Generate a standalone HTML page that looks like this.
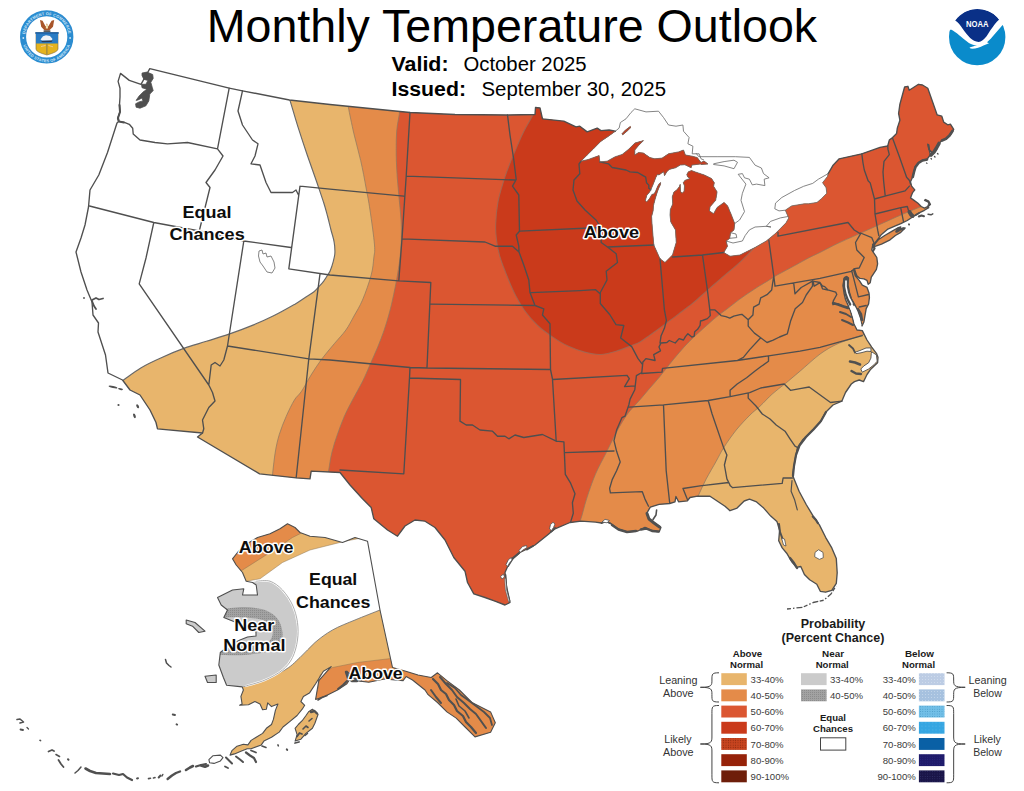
<!DOCTYPE html>
<html><head><meta charset="utf-8"><title>Monthly Temperature Outlook</title>
<style>html,body{margin:0;padding:0;background:#fff}body{width:1024px;height:791px;overflow:hidden;font-family:"Liberation Sans",sans-serif}svg{display:block}</style>
</head><body>
<svg width="1024" height="791" viewBox="0 0 1024 791" font-family="Liberation Sans, sans-serif">
<defs>
<clipPath id="cl"><path d="M149.8 68.7 L229.2 88.2 L242.5 90.8 L289.5 100 L330 104.5 L410 112.5 L455 114.5 L507.5 115 L535 114.5 L535.5 107.5 L540 108 L542.5 118.8 L563.8 121.2 L576 126.9 L579.8 126.2 L587.2 131.9 L597.2 128.1 L601 130.6 L609.1 130 L615.4 131.2 L608.5 136.2 L601 141.2 L593.5 148.8 L587.2 155 L581 161.2 L588.5 159.4 L599.1 155.6 L599.8 161.9 L607.2 161.2 L614.8 156.9 L622.2 154.4 L628.5 149.4 L634.8 143.1 L643.5 140.6 L638.5 145.6 L634.8 150 L634.8 155 L638.5 152.5 L643.5 153.1 L649.8 157.5 L654.8 158.8 L662.2 158.1 L668.5 153.8 L678.5 151.9 L683.5 150 L685.4 155 L692.2 156.2 L697.2 157.5 L701 162.5 L704 161 L708 164 L701 164.5 L700.5 163.9 L695 164.7 L691.9 165.1 L691.1 167.8 L684.9 164.7 L680.2 165.1 L675.5 167.8 L669.2 169.4 L666.8 171.8 L664.5 175.7 L663.7 171.8 L661.3 173.3 L659 174.9 L657.4 174.5 L655.9 177.2 L653.5 183.5 L650.8 189.8 L649.6 192.1 L646.8 195.3 L645.3 200.8 L646.8 201.9 L649.6 198.4 L651.9 194.5 L654.3 193.7 L655.9 190.6 L657.8 185.9 L659.4 183.5 L660.6 182.5 L660.5 184.5 L658.6 188.5 L657 192.9 L655.1 199.2 L653.5 205.5 L653.1 210.9 L651.6 216.4 L651.9 222 L652.5 230 L653.8 245 L660 258.8 L665 262.5 L672.5 255 L676.2 242.5 L675.5 230 L670.8 222 L670 214.9 L670.4 209.4 L672.7 203.9 L672.3 196.8 L673.9 192.1 L677 189.8 L679.4 186.6 L680.2 184.3 L680.5 191.3 L682.1 193.3 L684.1 191.3 L684.5 185.9 L683.3 182.7 L684.9 180.4 L688 179.2 L690 178.4 L687.6 176.8 L686.8 174.5 L688.4 171.8 L691.5 170.6 L696 172.2 L704.4 175 L711.5 178.5 L714.3 182.7 L713.6 186.3 L717.1 191.9 L715.7 200.3 L710.1 206.7 L709.4 210.9 L713.6 213.7 L717.1 207.4 L724.1 202.4 L727.6 205.9 L731.2 214.4 L734.7 223.5 L734 229.9 L730.5 232.7 L729.8 238.3 L726.2 241 L727.5 246.2 L723.8 252.5 L730 256.2 L740 255 L755 247.5 L766.3 241 L774.8 234.1 L780.4 228.5 L786 222.8 L788.8 217.9 L788.1 216.5 L785.3 210.2 L791.6 205.9 L804.3 203.8 L808.5 203.8 L817 202.4 L821.2 198.9 L826.8 193.3 L826.1 187.7 L822.6 182.7 L827.5 176.4 L828.2 173.6 L833.1 165.2 L839.2 158.8 L861.8 153.8 L880 147.4 L887.7 146 L889.3 140.1 L892.6 137.4 L896.6 133.4 L897.3 128.1 L899.9 120.2 L898.6 113.5 L899.9 104.2 L904.6 87 L907.9 86.3 L909.2 90.3 L918.5 84.3 L922.5 85 L927.8 88.3 L937.1 114.8 L941.8 116.2 L943.7 122.1 L947.7 124.8 L950.4 124.1 L953.7 129.4 L950.4 134.8 L946.4 138.7 L942.4 140.1 L938.4 144.1 L936.4 148.7 L933.1 153.4 L929.1 149.4 L927.8 144.1 L929.3 150.5 L930.5 154.7 L926.5 160 L922.5 160 L918.5 162.6 L915.2 166.6 L913.9 171.9 L912.5 177.3 L910.5 181.8 L911.6 186.1 L914.8 189.9 L912.6 192.6 L910.5 197.9 L913.7 200.1 L918 203.3 L921.2 206.5 L924.4 208.1 L928.7 206 L930.4 204.4 L928.7 201.1 L925.5 199.5 L924.6 200.3 L928 202 L929.2 204.3 L928 205.2 L928.7 207.6 L924.4 210.3 L920.2 212.4 L915.9 215.1 L913.7 216.2 L907.3 220.5 L900.8 223.7 L895.4 225.9 L887.9 229.1 L881.5 234.4 L878.3 238.7 L875 243 L873 244 L871.8 250 L876.8 257.5 L877.6 263.9 L876.4 269.4 L873.3 274.1 L871.3 277.2 L870.2 282.7 L868.2 284.3 L867 280.4 L863.9 278.8 L860 278.4 L856.8 275.7 L855.3 271.8 L854.5 268.6 L853.7 270.2 L855.3 275.7 L859.2 280.4 L862.3 285.1 L867 287.4 L869 292.9 L869.4 297.6 L868.6 303.9 L866.2 308.6 L865.1 314.9 L863.9 322 L862 326 L860.5 318 L858 311 L855 305 L851.5 299 L849.5 292.5 L848 285 L848.5 278 L846.5 276.5 L844 279 L843 285.5 L844 293 L845.5 299.5 L848 305 L850.5 311 L852.5 318 L854 324 L857 330 L862.3 330.6 L867 340 L871.7 347.1 L876.4 353.3 L878 357.3 L877.6 362.8 L874.1 365.9 L870.2 369.8 L867 374.5 L864.7 379.2 L863.5 381.6 L859.2 380 L854.5 381.6 L851.3 384 L845.5 392.5 L841.8 401.2 L833 405 L825.5 412.5 L820 422.5 L812.5 430 L802.5 440 L797.5 447.5 L795 460 L792.5 475 L794.7 480.6 L799.1 491.3 L806.2 504.5 L813.2 516.1 L819.4 524.9 L825.6 537.3 L831.8 547.9 L836.3 558.6 L837.2 572.7 L836.3 583.4 L831.8 590.4 L825.6 592.2 L820.3 591.3 L816.8 584.2 L809.7 579.8 L804.4 574.5 L800.8 566.5 L796.4 567.4 L792 562.1 L786.7 553.2 L782.2 547.9 L778.7 540.8 L779.6 530.2 L776.9 521.4 L770.7 516.1 L763.7 508.1 L756.6 501.9 L749.5 499.2 L744.2 501 L737.1 508.1 L730 510.7 L725 506.2 L717.5 501.2 L710 496.2 L697.5 496.2 L690 497.5 L687.4 500.9 L678.6 501.8 L675.9 496.5 L675 501.8 L669.7 503.5 L659.1 504.4 L650.3 507.1 L646.7 513.3 L648.5 518.6 L655.6 523.9 L660.9 527.4 L659.1 531.9 L653.8 531 L645 527.4 L637.9 531 L627.3 531.9 L618.4 529.2 L611.3 523.9 L606 521 L601.6 523 L595.4 522.1 L581.2 521.2 L570 522.5 L555 528.8 L547.5 535 L535 545 L520 552.5 L510 561.2 L505 572.5 L506.2 585 L510 602.5 L505 605 L495 601.2 L485 597.5 L473.8 593.8 L467.5 582.5 L465 571.2 L453.8 557.5 L445 540 L435 527.5 L425 521.2 L415 520 L405 526 L397.5 536.2 L387.5 530 L373.8 518.8 L371.2 507.5 L362.5 498.8 L350 485 L340 472.5 L311.2 471.2 L310 478.8 L296.2 477.9 L259.6 473.8 L197.5 437 L202.5 433 L157.5 428.8 L156 422.5 L150 410 L140 395 L130 390 L122.5 380 L108 373 L105.5 355 L98 332 L98.5 323 L93 315 L92 302 L87 290 L81 272 L76 252 L81 238 L85 225 L88.5 207 L90 190 L98.8 175 L107.5 152.5 L117 123 L118.6 121.4 L117.6 118.5 L120 111.6 L119.5 104.8 L120 97 L120 88.2 L118.1 81.4 L120.5 73.4 L129.3 80.4 L141 84.3ZM872.9 247.3 L875 243.8 L878.3 239.8 L884.7 235.5 L892.2 231.2 L897.6 228 L900.8 226.9 L899 229.5 L905.1 228 L900.8 232.3 L895.4 235.5 L890.1 239.8 L881.5 244.1 L875 246.3ZM621.8 133.9 L625.5 130 L630.2 126.5 L631 127.3 L627 131.2 L622.8 134.8Z"/></clipPath>
<clipPath id="ak"><path d="M232.5 558.8 L237.5 552.5 L245 545 L257.5 537.5 L270 533.8 L280 528.8 L287.5 523.8 L295 527.5 L300 532.5 L310 536.2 L325 537.5 L342.5 542.5 L355 537.5 L367.5 541.2 L380 610 L392.5 667.5 L405 671 L418 675 L431.2 677.5 L437.5 672.8 L446.9 680.6 L459.4 690 L471.9 702.5 L490.6 711.9 L495.3 722.8 L490.6 732.2 L475 736.9 L465.6 727.5 L456.2 718.1 L446.9 711.9 L437.5 702.5 L428.1 694.7 L425 690 L412.5 680 L406.2 676.5 L403.1 680.6 L384.4 679 L368.8 682.2 L356.2 680.6 L346.9 671.2 L350 679 L346.9 683.8 L337.5 690 L325 696.2 L315.6 699.4 L318.8 680.6 L331.2 666.6 L323.4 671.2 L315.6 683.8 L309.4 693.1 L303.4 696.4 L300.9 701.5 L304.7 705.3 L302.2 709.2 L297.1 715.5 L289.4 721.9 L283 727 L279.2 732.1 L271.5 737.3 L263.9 741.1 L261.3 744.9 L251.1 748.8 L247.2 748.8 L240.9 751.3 L234.5 753.9 L230 755.1 L231.9 750.7 L237 746.2 L243.4 744.3 L247.9 744.9 L251.1 740.4 L256.2 737.3 L262.6 733.4 L266.4 728.3 L271.5 724.5 L273.4 719.4 L275.4 710.4 L277.9 704 L271.5 706.6 L267.7 702.8 L266.4 709.2 L262.6 709.8 L260 704 L254.9 701.5 L248.5 704.7 L239.6 705.3 L242.1 704 L240.9 696.4 L243.4 690 L242.2 686.9 L226.6 685.3 L223.4 677.5 L218.8 665 L220.3 652.5 L230 645 L240 640 L247.5 637 L256 636 L256 632 L248 628 L235 622 L223.8 617.5 L227.5 610 L221.2 605 L217.5 597.5 L232.5 590 L243.8 588.8 L242.5 595 L257.5 595 L256.2 585 L252.5 582.5 L246.2 581.2 L242.5 572.5 L236.2 565ZM312.4 709.2 L318.1 714.3 L314.9 723.2 L312.4 728.3 L306 733.4 L300.9 739.2 L295.1 741.1 L297.1 734.7 L295.1 728.3 L298.3 724.5 L302.2 720.7 L306 715.5 L308.6 711.7ZM186.2 620 L195 622.5 L205 631.2 L198.8 632.5 L192.5 626.2 L186.2 623.8ZM205 676.2 L216.2 675 L216.2 682.5 L207.5 682.5Z"/></clipPath>
<clipPath id="akmain"><path d="M232.5 558.8 L237.5 552.5 L245 545 L257.5 537.5 L270 533.8 L280 528.8 L287.5 523.8 L295 527.5 L300 532.5 L310 536.2 L325 537.5 L342.5 542.5 L355 537.5 L367.5 541.2 L380 610 L392.5 667.5 L405 671 L418 675 L431.2 677.5 L437.5 672.8 L446.9 680.6 L459.4 690 L471.9 702.5 L490.6 711.9 L495.3 722.8 L490.6 732.2 L475 736.9 L465.6 727.5 L456.2 718.1 L446.9 711.9 L437.5 702.5 L428.1 694.7 L425 690 L412.5 680 L406.2 676.5 L403.1 680.6 L384.4 679 L368.8 682.2 L356.2 680.6 L346.9 671.2 L350 679 L346.9 683.8 L337.5 690 L325 696.2 L315.6 699.4 L318.8 680.6 L331.2 666.6 L323.4 671.2 L315.6 683.8 L309.4 693.1 L303.4 696.4 L300.9 701.5 L304.7 705.3 L302.2 709.2 L297.1 715.5 L289.4 721.9 L283 727 L279.2 732.1 L271.5 737.3 L263.9 741.1 L261.3 744.9 L251.1 748.8 L247.2 748.8 L240.9 751.3 L234.5 753.9 L230 755.1 L231.9 750.7 L237 746.2 L243.4 744.3 L247.9 744.9 L251.1 740.4 L256.2 737.3 L262.6 733.4 L266.4 728.3 L271.5 724.5 L273.4 719.4 L275.4 710.4 L277.9 704 L271.5 706.6 L267.7 702.8 L266.4 709.2 L262.6 709.8 L260 704 L254.9 701.5 L248.5 704.7 L239.6 705.3 L242.1 704 L240.9 696.4 L243.4 690 L242.2 686.9 L226.6 685.3 L223.4 677.5 L218.8 665 L220.3 652.5 L230 645 L240 640 L247.5 637 L256 636 L256 632 L248 628 L235 622 L223.8 617.5 L227.5 610 L221.2 605 L217.5 597.5 L232.5 590 L243.8 588.8 L242.5 595 L257.5 595 L256.2 585 L252.5 582.5 L246.2 581.2 L242.5 572.5 L236.2 565ZM312.4 709.2 L318.1 714.3 L314.9 723.2 L312.4 728.3 L306 733.4 L300.9 739.2 L295.1 741.1 L297.1 734.7 L295.1 728.3 L298.3 724.5 L302.2 720.7 L306 715.5 L308.6 711.7Z"/></clipPath>
<pattern id="dk" width="2" height="2" patternUnits="userSpaceOnUse"><rect width="2" height="2" fill="#A2A2A2"/><rect width="1" height="1" fill="#8c8c8c"/></pattern>
<pattern id="p70" width="2.4" height="2.4" patternUnits="userSpaceOnUse"><rect width="2.4" height="2.4" fill="#C8441F"/><circle cx="1.2" cy="1.2" r=".55" fill="#8a2a10"/></pattern>
<pattern id="pb33" width="3" height="3" patternUnits="userSpaceOnUse"><rect width="3" height="3" fill="#BCCCE4"/><circle cx="1.5" cy="1.5" r=".4" fill="#e8eef7"/></pattern>
<pattern id="pb40" width="3" height="3" patternUnits="userSpaceOnUse"><rect width="3" height="3" fill="#A6C1DF"/><circle cx="1.5" cy="1.5" r=".45" fill="#dfe9f4"/></pattern>
<pattern id="pb50" width="2.4" height="2.4" patternUnits="userSpaceOnUse"><rect width="2.4" height="2.4" fill="#72BFE7"/><circle cx="1.2" cy="1.2" r=".45" fill="#3f8fc0"/></pattern>
<pattern id="pb60" width="3.5" height="3.5" patternUnits="userSpaceOnUse"><rect width="3.5" height="3.5" fill="#35A6E2"/><circle cx="1.7" cy="1.7" r=".4" fill="#8fd0f2"/></pattern>
<pattern id="pb80" width="2.4" height="2.4" patternUnits="userSpaceOnUse"><rect width="2.4" height="2.4" fill="#1F1B6B"/><circle cx="1.2" cy="1.2" r=".4" fill="#2f2f86"/></pattern>
<pattern id="pb90" width="2.4" height="2.4" patternUnits="userSpaceOnUse"><rect width="2.4" height="2.4" fill="#1A1548"/><circle cx="1.2" cy="1.2" r=".45" fill="#34346e"/></pattern>
</defs>
<rect width="1024" height="791" fill="#fff"/>
<g clip-path="url(#cl)">
<rect x="60" y="50" width="920" height="580" fill="#fff"/>
<path d="M287 92 C287.4 93.2 287.8 93.4 289.6 99.1 C291.4 104.8 294.9 117.1 297.8 126.4 C300.8 135.8 304.1 145.8 307.3 155.2 C310.5 164.5 314.1 174.5 316.9 182.5 C319.6 190.5 322 197.4 323.8 203 C325.6 208.6 326.3 211.5 327.5 216 C328.7 220.5 329.9 225.7 331 230 C332.1 234.3 333.5 238 334.1 241.8 C334.8 245.6 335 249.4 334.9 252.7 C334.8 255.9 334.1 258.3 333.3 261.3 C332.5 264.3 331.1 268.6 330.2 270.8 C329.3 273 328.9 273 327.8 274.7 C326.8 276.4 325.3 278.9 323.9 280.9 C322.5 282.8 320.9 284.5 319.2 286.4 C317.5 288.2 316.1 290.1 313.7 292 C311.2 293.9 307.7 295.9 304.5 298 C301.3 300.1 299.7 301.5 294.6 304.4 C289.5 307.3 280.9 312.2 274.1 315.6 C267.3 319 261.1 321.8 253.6 324.9 C246.1 328 236.9 331.4 229 334.1 C221.1 336.8 213.9 338.9 206.4 341.3 C198.9 343.7 191.3 345.7 183.8 348.4 C176.3 351.1 168.5 354.4 161.3 357.7 C154.1 360.9 147.1 364.1 140.8 367.9 C134.5 371.6 130.1 375.2 123.3 380.2 C116.5 385.2 103.9 395 100 398 L0 420 L0 900 L1100 900 L1100 -50 L287 -50Z" fill="#E8B56C" stroke="#686868" stroke-width="1.15"/>
<path d="M347 97 C347.2 98.7 347.3 101.2 348.4 107.3 C349.5 113.3 351.8 124.4 353.8 133.3 C355.9 142.2 358.6 151.5 360.7 160.6 C362.8 169.7 364.6 179.8 366.1 188 C367.7 196.2 368.6 200.5 370 210 C371.4 219.5 373.9 237 374.5 245 C375.1 253 374.3 253 373.8 258 C373.2 263 373.1 268 371.2 275 C369.4 282 365.4 293.2 362.5 300 C359.6 306.8 356.8 311 354 316 C351.2 321 349.2 325.4 345.9 330 C342.6 334.6 338.3 338.9 334.3 343.7 C330.3 348.5 325.9 353.5 322 358.7 C318.1 363.9 314.4 369.6 311 375.1 C307.6 380.6 304.2 387.4 301.4 391.5 C298.6 395.6 296.9 395.9 294.4 400 C291.9 404.1 288.7 410.7 286.2 416.4 C283.7 422.1 281.2 428.3 279.4 434.2 C277.6 440.1 276.4 445.4 275.3 452 C274.2 458.6 273.5 465.8 272.6 473.8 C271.7 481.8 270.4 495.6 270 500 L270 900 L690 900 L690 515 C691.2 512.1 694.8 503.5 697.5 497.5 C700.2 491.5 703.1 484.9 706.2 478.9 C709.4 472.9 713.3 466.5 716.2 461.2 C719.2 456 720.4 452.7 723.8 447.5 C727.1 442.3 731.9 435.4 736.2 430 C740.6 424.6 746 419 750 415 C754 411 756.2 409.8 760 406.2 C763.8 402.7 768.3 397.5 772.5 393.8 C776.7 390 780.4 387.5 785 383.8 C789.6 380 794.2 376.1 800 371.2 C805.8 366.3 814 358.5 820 354.1 C826 349.7 830.5 347.2 835.7 344.7 C840.9 342.1 846.9 340.4 851.3 338.8 C855.7 337.2 854.2 337.7 862.3 334.9 C870.4 332.1 893.7 324.1 900 322 L1100 322 L1100 -50 L347 -50Z" fill="#E48B49" stroke="#907a60" stroke-opacity=".75" stroke-width="1"/>
<path d="M400 100 C399.9 102 400.1 107.2 399.6 112.1 C399.1 117 397.5 122.9 396.9 129.2 C396.3 135.5 396.2 142.6 396.2 149.7 C396.2 156.8 396.4 163.8 396.9 171.6 C397.3 179.3 398.2 187.7 398.9 196.2 C399.6 204.7 400.9 213.5 401.2 222.5 C401.6 231.5 401.4 241.2 400.8 250 C400.1 258.8 398.9 266.7 397.5 275 C396.1 283.3 394 293.2 392.5 300 C391 306.8 389.9 311 388.5 316 C387.1 321 385.9 324.9 384.2 330 C382.4 335.1 380.3 340.8 378 346.4 C375.7 352 373 357.8 370.5 363.5 C368 369.2 366 374.5 363 380.6 C360 386.7 355.6 394 352.5 400 C349.4 406 346.8 410.7 344.3 416.4 C341.8 422.1 339.6 428.3 337.5 434.2 C335.4 440.1 333.5 445.9 332 452 C330.5 458.1 329.9 463.1 328.6 471.1 C327.4 479.1 325.2 495.2 324.5 500 L324.5 900 L572 900 L572 540 C573.4 536.7 578 527.2 580.4 520.4 C582.8 513.6 584 506.8 586.5 499.1 C589 491.4 592.1 482 595.4 474.3 C598.6 466.6 602.5 460.2 606 453.1 C609.5 446 613.1 438.4 616.6 431.9 C620.1 425.4 623.4 419.6 627.3 414.2 C631.2 408.8 636.3 404 640 399.7 C643.7 395.4 646.2 392.3 649.5 388.5 C652.8 384.7 656.2 381 659.5 377 C662.8 373 666 368.6 669.3 364.5 C672.6 360.4 675.9 356.4 679.1 352.7 C682.4 348.9 685.5 345.3 688.8 342 C692 338.7 695.3 335.7 698.6 332.7 C701.9 329.7 705.1 326.8 708.4 323.9 C711.6 321 714.9 318.2 718.1 315.6 C721.4 313 724.3 311 727.9 308.3 C731.5 305.6 735.9 301.9 739.5 299.3 C743.1 296.7 746 294.7 749.3 292.5 C752.6 290.3 755.9 288.1 759.1 286.1 C762.4 284.1 766.2 281.9 768.8 280.3 C771.4 278.7 771.4 278.3 774.7 276.4 C778 274.5 784.5 271.1 788.4 269 C792.3 266.9 794.9 265.5 798.1 263.7 C801.4 261.9 804.2 260.2 807.9 258.3 C811.5 256.4 814.9 254.9 820 252.4 C825.1 249.9 832.7 245.8 838.4 243.1 C844.1 240.4 848.8 238.4 854 236.1 C859.2 233.8 864.5 231.4 869.7 229 C874.9 226.6 880.2 224.2 885.4 221.9 C890.6 219.6 895.3 217.4 901.1 214.9 C906.9 212.4 915.1 209 920 207.1 C924.9 205.2 923.8 205.8 930.5 203.5 C937.2 201.2 955.1 194.8 960 193 L1100 193 L1100 -50 L400 -50Z" fill="#DB5631" stroke="#907a60" stroke-opacity=".75" stroke-width="1"/>
<path d="M537 104 C525.8 107.5 534.7 111.2 532.5 115.7 C530.3 120.2 526.6 125.8 523.9 131.3 C521.2 136.8 518.6 142.8 516.1 148.6 C513.6 154.3 511.1 160.3 509 165.8 C506.9 171.3 505.3 175.5 503.5 181.5 C501.7 187.5 499.3 194.8 498 201.9 C496.7 209 495.9 217.7 495.7 224 C495.4 230.3 495.8 234.5 496.5 240 C497.2 245.5 498 250.3 500 257 C502 263.7 506 273.6 508.6 280 C511.2 286.4 513 290.5 515.7 295.7 C518.5 300.9 521.5 306.3 525.1 311.3 C528.8 316.3 533.2 321.3 537.6 325.5 C542 329.7 546.7 333 551.7 336.4 C556.7 339.8 561.9 343.2 567.4 345.8 C572.9 348.4 579.1 350.7 584.6 352.1 C590.1 353.6 595.1 354.6 600.3 354.5 C605.5 354.4 610.8 352.8 616 351.3 C621.2 349.8 627.7 347.1 631.7 345.5 C635.7 343.9 637 343.7 640 342 C643 340.3 646.5 337.5 649.8 335.2 C653 332.9 656.2 330.7 659.5 328.3 C662.8 325.9 666 323.4 669.3 321 C672.6 318.6 675.9 316.1 679.1 313.7 C682.4 311.2 685.9 308.6 688.8 306.3 C691.7 304 693.4 302.8 696.6 300 C699.8 297.2 704.1 293.2 708 289.8 C711.9 286.4 716.4 282.4 720 279.3 C723.6 276.2 726.5 273.8 729.8 271 C733 268.2 736.6 265.4 739.5 262.7 C742.4 260 744.5 257.7 747.3 254.9 C750 252.1 753 248.8 756 246 C759 243.2 760.2 244 765 238 C769.8 232 779.2 221.3 785 210 C790.8 198.7 799.2 185 800 170 C800.8 155 806.7 133.3 790 120 C773.3 106.7 731.7 94.2 700 90 C668.3 85.8 627.2 92.7 600 95 C572.8 97.3 548.2 100.5 537 104Z" fill="#CA3A1B" stroke="#9c6a58" stroke-opacity=".8" stroke-width="1.1"/>
</g>
<g fill="none" stroke="#666" stroke-width=".8" stroke-linejoin="round">
<path d="M615.4 131.2 L619.1 128.1 L620.4 122.5 L626 118.8 L631 112.5 L634.8 108.8 L646 111.9 L658.5 111.2 L663.5 117.5 L668.5 125 L676 126.2 L682.9 125 L683.5 131.2 L689.1 137.5 L687.9 143.8 L692.9 146.2 L692.2 153.8 L699.1 153.8 L701 158.8 L704 160"/>
<path d="M696 153.2 L698.8 156.7 L717.1 156.7 L735.4 156.7 L749.4 157.4 L755.1 165.2 L761.4 168 L763.5 173.6 L769.1 177.8 L764.2 179.2 L764.9 185.6 L756.5 184.1 L752.3 184.9 L749.4 179.2 L744.5 177.8 L742.4 173.6 L738.2 174.3 L745.9 184.1 L742.4 193.3 L741 200.3 L744.5 211.6 L739.6 220 L734.7 223.5"/>
<path d="M713.6 163.8 L724.1 161.6 L734 160.2 L737.5 162.3 L734 168.7 L724.1 165.9 L713.6 164.5 L713.6 163.8"/>
<path d="M730.5 232.7 L736 234 L736.8 237.6 L729.8 238.3"/>
<path d="M726.2 241 L733 243 L742.4 241 L745.2 235.5 L749.4 229.9 L755.1 227 L766.3 226.3 L771 227 L766.3 226.3 L770.5 221.4 L780.4 217.9 L788.1 216.5"/>
<path d="M785.3 210.2 L779 210.9 L774.8 208.8 L775.5 203.1 L781.8 197.5 L794.5 190.5 L803.6 186.3 L812.7 183.4 L818.4 179.2 L828.2 173.6"/>
<path d="M259 251 L262 250 L263 254 L266 253 L267 257 L271 256 L274 262 L275 268 L272 273 L267 272 L263 266 L260 262 L258.5 256 L259 251"/>
</g>
<g fill="none" stroke="#4f4f4f" stroke-width="1.35" stroke-linejoin="round" stroke-linecap="round">
<path d="M118.6 121.4 L124.4 122.4 L129.3 124.3 L132.7 128.2 L133.2 134 L140 140 L155 142.5 L167.5 143.8 L187.5 142.5 L217.5 148.8 M229.2 88.2 L217.5 148.8 M217.5 148.8 L223 156 L215 170 L206 182.5 L210 187.5 L199.5 230 M89.5 206 L153.8 222.5 L199.5 231 L243.8 241 L291 247.5 M153.8 222.5 L146 258 L139.2 283.8 L208.8 385 M242.5 90.8 L238 111 L242.5 125 L252.5 140 L258 143.8 L255 156 L251 163.8 L260 165 L266 182.5 L271 192.5 L292.5 192.5 L296 190 L298.5 195 M300 186.2 L288.8 268.8 M300 186.2 L330 189.2 L403.8 196.2 M288.8 268.8 L330 275 L398.8 280.8 L430.8 282.5 M243.8 241 L227.5 346 M227.5 346 L223.8 360 L220 366 L215 362.5 L211.2 365 L208.8 385 M208.8 385 L212.5 392.5 L215 401 L208.8 407.5 L202.5 420 L203.8 428.8 L202.5 433 M227.5 346 L308.8 358.8 L330 360 L410 367.5 M320 273.8 L308.8 358.8 L296.2 477.5 M410 112.5 L406.2 176.2 L402 238.8 L398.8 280.8 M406.2 176.2 L515 180 M402 238.8 L485 242 L495 246.2 L512.5 246.2 L519 252 M507.5 115 L510 135 L513.8 160 L516.2 179.5 M516.2 179.5 L512.5 186.2 L518.8 195 L519.5 231.2 M519.5 231.2 L601 227.5 M519.5 231.2 L516.2 235 L518.8 246.2 L519 252 M581 161.2 L579 164 L579.8 173.8 L574 180 L573 190 L577 201 L585 210 L596 220 L601 227.5 L601.2 242.5 L607.5 247 L616.2 253.8 L617.5 262.5 L606.2 271.2 L607 280 L600.3 292.5 L600.3 303.5 L609.7 314.5 L616 324.7 L623.8 325.5 L620.7 338 L631.7 346.6 L637.9 358.4 L642.6 364.6 L641.8 372.5 L636.4 375.6 L634.8 389.7 L630.1 399.1 L628.8 405 L625 416.2 L621.9 417.7 L616.6 430.1 L614 440.7 L616.6 451.3 L620.2 461.9 L616.6 470.8 L612.2 479.6 L609.6 488.5 L610.4 492.9 M610.4 492.9 L642.3 491.7 L645 499.1 L648.5 506.2 M599.8 161.9 L608.5 163.8 L612.2 167.5 L626 170 L630 171.8 L637.8 172.5 L641.8 174.9 L645.7 177.2 L646.5 182.7 L648.8 185.1 L648.8 188.2 L650.8 189.8 M607.5 247 L653.8 245 M660 258.8 L662.7 290 L664.4 309.8 L666.4 320.5 L664.4 328.3 L661 336.1 L660 343 M672.5 257 L702.5 255 L723.8 252.5 M702.5 255 L707.4 290 L709.8 309.8 M773.8 276.2 L772.5 284 L771.7 290 L767 294.7 L760.7 297.8 L759.1 304.1 L753.6 307.2 L752.9 315.1 L748.2 319.8 L741.9 314.3 L740 314.6 L733.8 316.1 L729.8 318.1 L725.9 316.6 L721.1 315.6 L718.1 312.7 L714.7 309.8 L709.8 309.8 L710.3 315.6 L707.4 318.6 L702.5 320.5 L700.5 321 L700.1 325.4 L697.6 329.3 L694.7 331.7 L694.2 336.1 L691.8 337.1 L687.9 333.7 L685.4 336.6 L683.5 340 L679.1 338.6 L675.2 343 L669.3 340.5 L666.9 342.5 L661 343 L659 346.9 L660.5 350.8 L653.7 354.7 L655.1 360.5 L645.9 358.6 L642.9 362 L642.6 364.6 M768.8 240 L773.8 276.2 L775 286.2 M775 286.2 L820 278.4 L851.3 271.4 L854.5 268.6 M778 232.5 L778 236.2 L848 222.5 L854.2 230 L860.5 233.8 M860.5 233.8 L855.5 242.5 L856.8 250 L864.2 257.5 L859.2 268 L854.5 268.6 M860.5 233 L871.8 237.7 L874.5 244.1 M861.8 153.8 L863 163 L864.3 170 L868.1 180.7 L870.2 182.9 L874.5 199 L875 214 L877.7 230.2 L878.8 235.5 M887.7 146 L888 149.4 L889.3 154.7 L884 161.3 L883 172 L883.6 180.7 L885.2 195.8 M892.6 138.2 L899.5 157 L906.6 177.3 L909.5 180.5 L910.5 184 M874.5 199 L885.8 195.8 L905.1 190.9 L909.4 186.1 M875 214 L900.8 207.6 L907.3 206.5 L908.9 211.9 M900.8 208.1 L903.5 221.6 M531.2 292.7 L580 290.6 L595.6 289.7 L600.3 294.1 M519 252 L523.8 265 L528.8 280 L530 292.5 L535 305.5 L543.8 308.8 L542.5 315 L550 323.8 L550.5 369.5 L552.5 379.2 M430.8 304.2 L535 305.5 M430.8 282.5 L427 367.5 M410 367.5 L427 368 L550.5 369.5 M410 367.5 L409.5 378 L403.8 473.8 M409.5 378 L460.5 379.5 L460 421.2 M460 421.2 L466.2 425 L472.5 425 L480 430 L492.5 431.2 L497.5 436.2 L505 436.2 L508.8 438.8 L515 435 L523.8 437.5 L542.5 434.5 L556.2 441.2 L563.9 441.9 M552.5 379.2 L556.2 441.2 M563.9 441.9 L564.4 453.1 L565.3 474.3 L570.6 483.2 L575 493.8 L572.4 502.7 L573.3 513.3 L570.6 522.1 M564.4 452.7 L614 451 M552.5 379.5 L627 375.3 L629.3 378.7 L624.6 386.6 L634.8 385.8 M340 470 L403.8 473.8 M641.5 373.5 L662 372.1 L662.5 368.4 L737.2 360.5 L768.5 355.8 M768.5 355.8 L800 351.1 L820 347.3 L862.3 335.7 M629 407.1 L663.5 404.9 L708.2 400.5 L730.1 396.6 M663.5 404.9 L666.2 470.8 L669.7 503 M708.2 400.5 L712.1 414 L723.8 448.1 L726.9 455 L724.4 465 L726.9 478.9 L730 485 M687.4 499.5 L683 488.5 L700 485.8 L728.8 482.5 M730 485.5 L732.7 487.7 L782.2 483.3 L783.1 478 L792.5 478 M768.5 355.8 L768.5 361.3 L760.7 366.8 L754.4 371.5 L746.6 377.8 L737.2 384 L730.1 390.3 L730.1 395.8 M730.1 396.6 L749.7 392.7 L760.7 388 L784.2 384 L790.5 390.3 L800 388.7 L809.2 387 L830.5 402.5 L841.8 401.2 M748.2 393.5 L748.2 398.1 L756 406 L762.3 414 L770 419 L776.2 425 L785 431.2 L790 438.8 L795 446.2 L797.5 447.5 M760.7 337.8 L749.7 349.6 L743.4 357.4 L737.2 360.5 M748.2 319.8 L748.2 326.1 L754.4 333.1 L760.7 337.8 M760.7 337.8 L767 342.5 L773.2 340.2 L779.5 337 L787.3 333.9 L790.5 321.3 L795.2 308.8 L802.5 302.5 L806.2 295 L812.5 286.2 L812.5 281.2 L820 282.5 L822.5 288.8 L828 290 M793.8 284 L795 293.8 L801.2 287.5 L812.5 281.2 M813 281.2 L814.2 286.2 L820 282.7 L822.4 285.9 L824.7 286.6 L827.8 289.8 L835.7 292.1 L836.8 294.5 L833.3 300.8 L832.9 304.7 L838 303.9 L843.5 306.2 L847.4 307 M851.7 270.6 L858.4 296.8 L868.6 294.5 M859.2 307 L866.2 305.5"/>
<path d="M828.2 173.6 L833.1 165.2 L839.2 158.8 L861.8 153.8 L880 147.4 L887.7 146 L889.3 140.1 L892.6 137.4 L896.6 133.4 L897.3 128.1 L899.9 120.2 L898.6 113.5 L899.9 104.2 L904.6 87 L907.9 86.3 L909.2 90.3 L918.5 84.3 L922.5 85 L927.8 88.3 L937.1 114.8 L941.8 116.2 L943.7 122.1 L947.7 124.8 L950.4 124.1 L953.7 129.4 L950.4 134.8 L946.4 138.7 L942.4 140.1 L938.4 144.1 L936.4 148.7 L933.1 153.4 L929.1 149.4 L927.8 144.1 L929.3 150.5 L930.5 154.7 L926.5 160 L922.5 160 L918.5 162.6 L915.2 166.6 L913.9 171.9 L912.5 177.3 L910.5 181.8 L911.6 186.1 L914.8 189.9 L912.6 192.6 L910.5 197.9 L913.7 200.1 L918 203.3 L921.2 206.5 L924.4 208.1 L928.7 206 L930.4 204.4 L928.7 201.1 L925.5 199.5 L924.6 200.3 L928 202 L929.2 204.3 L928 205.2 L928.7 207.6 L924.4 210.3 L920.2 212.4 L915.9 215.1 L913.7 216.2 L907.3 220.5 L900.8 223.7 L895.4 225.9 L887.9 229.1 L881.5 234.4 L878.3 238.7 L875 243 L873 244 L871.8 250 L876.8 257.5 L877.6 263.9 L876.4 269.4 L873.3 274.1 L871.3 277.2 L870.2 282.7 L868.2 284.3 L867 280.4 L863.9 278.8 L860 278.4 L856.8 275.7 L855.3 271.8 L854.5 268.6 L853.7 270.2 L855.3 275.7 L859.2 280.4 L862.3 285.1 L867 287.4 L869 292.9 L869.4 297.6 L868.6 303.9 L866.2 308.6 L865.1 314.9 L863.9 322 L862 326 L860.5 318 L858 311 L855 305 L851.5 299 L849.5 292.5 L848 285 L848.5 278 L846.5 276.5 L844 279 L843 285.5 L844 293 L845.5 299.5 L848 305 L850.5 311 L852.5 318 L854 324 L857 330 L862.3 330.6 L867 340 L871.7 347.1 L876.4 353.3 L878 357.3 L877.6 362.8 L874.1 365.9 L870.2 369.8 L867 374.5 L864.7 379.2 L863.5 381.6 L859.2 380 L854.5 381.6 L851.3 384 L845.5 392.5 L841.8 401.2 L833 405 L825.5 412.5 L820 422.5 L812.5 430 L802.5 440 L797.5 447.5 L795 460 L792.5 475 L794.7 480.6 L799.1 491.3 L806.2 504.5 L813.2 516.1 L819.4 524.9 L825.6 537.3 L831.8 547.9 L836.3 558.6 L837.2 572.7 L836.3 583.4 L831.8 590.4 L825.6 592.2 L820.3 591.3 L816.8 584.2 L809.7 579.8 L804.4 574.5 L800.8 566.5 L796.4 567.4 L792 562.1 L786.7 553.2 L782.2 547.9 L778.7 540.8 L779.6 530.2 L776.9 521.4 L770.7 516.1 L763.7 508.1 L756.6 501.9 L749.5 499.2 L744.2 501 L737.1 508.1 L730 510.7 L725 506.2 L717.5 501.2 L710 496.2 L697.5 496.2 L690 497.5 L687.4 500.9 L678.6 501.8 L675.9 496.5 L675 501.8 L669.7 503.5 L659.1 504.4 L650.3 507.1 L646.7 513.3 L648.5 518.6 L655.6 523.9 L660.9 527.4 L659.1 531.9 L653.8 531 L645 527.4 L637.9 531 L627.3 531.9 L618.4 529.2 L611.3 523.9 L606 521 L601.6 523 L595.4 522.1 L581.2 521.2 L570 522.5 L555 528.8 L547.5 535 L535 545 L520 552.5 L510 561.2 L505 572.5 L506.2 585 L510 602.5 L505 605 L495 601.2 L485 597.5 L473.8 593.8 L467.5 582.5 L465 571.2 L453.8 557.5 L445 540 L435 527.5 L425 521.2 L415 520 L405 526 L397.5 536.2 L387.5 530 L373.8 518.8 L371.2 507.5 L362.5 498.8 L350 485 L340 472.5 L311.2 471.2 L310 478.8 L296.2 477.9 L259.6 473.8 L197.5 437 L202.5 433 L157.5 428.8 L156 422.5 L150 410 L140 395 L130 390 L122.5 380 L108 373 L105.5 355 L98 332 L98.5 323 L93 315 L92 302 L87 290 L81 272 L76 252 L81 238 L85 225 L88.5 207 L90 190 L98.8 175 L107.5 152.5 L117 123 L118.6 121.4 L117.6 118.5 L120 111.6 L119.5 104.8 L120 97 L120 88.2 L118.1 81.4 L120.5 73.4 L129.3 80.4 L141 84.3 L149.8 68.7 L229.2 88.2 L242.5 90.8 L289.5 100 L330 104.5 L410 112.5 L455 114.5 L507.5 115 L535 114.5 L535.5 107.5 L540 108 L542.5 118.8 L563.8 121.2 L576 126.9 L579.8 126.2 L587.2 131.9 L597.2 128.1 L601 130.6 L609.1 130 L615.4 131.2M872.9 247.3 L875 243.8 L878.3 239.8 L884.7 235.5 L892.2 231.2 L897.6 228 L900.8 226.9 L899 229.5 L905.1 228 L900.8 232.3 L895.4 235.5 L890.1 239.8 L881.5 244.1 L875 246.3Z"/>
</g>
<path d="M615.4 131.2 L608.5 136.2 L601 141.2 L593.5 148.8 L587.2 155 L581 161.2 L588.5 159.4 L599.1 155.6 L599.8 161.9 L607.2 161.2 L614.8 156.9 L622.2 154.4 L628.5 149.4 L634.8 143.1 L643.5 140.6 L638.5 145.6 L634.8 150 L634.8 155 L638.5 152.5 L643.5 153.1 L649.8 157.5 L654.8 158.8 L662.2 158.1 L668.5 153.8 L678.5 151.9 L683.5 150 L685.4 155 L692.2 156.2 L697.2 157.5 L701 162.5 L704 161 L708 164 L701 164.5 L700.5 163.9 L695 164.7 L691.9 165.1 L691.1 167.8 L684.9 164.7 L680.2 165.1 L675.5 167.8 L669.2 169.4 L666.8 171.8 L664.5 175.7 L663.7 171.8 L661.3 173.3 L659 174.9 L657.4 174.5 L655.9 177.2 L653.5 183.5 L650.8 189.8 L649.6 192.1 L646.8 195.3 L645.3 200.8 L646.8 201.9 L649.6 198.4 L651.9 194.5 L654.3 193.7 L655.9 190.6 L657.8 185.9 L659.4 183.5 L660.6 182.5 L660.5 184.5 L658.6 188.5 L657 192.9 L655.1 199.2 L653.5 205.5 L653.1 210.9 L651.6 216.4 L651.9 222 L652.5 230 L653.8 245 L660 258.8 L665 262.5 L672.5 255 L676.2 242.5 L675.5 230 L670.8 222 L670 214.9 L670.4 209.4 L672.7 203.9 L672.3 196.8 L673.9 192.1 L677 189.8 L679.4 186.6 L680.2 184.3 L680.5 191.3 L682.1 193.3 L684.1 191.3 L684.5 185.9 L683.3 182.7 L684.9 180.4 L688 179.2 L690 178.4 L687.6 176.8 L686.8 174.5 L688.4 171.8 L691.5 170.6 L696 172.2 L704.4 175 L711.5 178.5 L714.3 182.7 L713.6 186.3 L717.1 191.9 L715.7 200.3 L710.1 206.7 L709.4 210.9 L713.6 213.7 L717.1 207.4 L724.1 202.4 L727.6 205.9 L731.2 214.4 L734.7 223.5 L734 229.9 L730.5 232.7 L729.8 238.3 L726.2 241 L727.5 246.2 L723.8 252.5 L730 256.2 L740 255 L755 247.5 L766.3 241 L774.8 234.1 L780.4 228.5 L786 222.8 L788.8 217.9 L788.1 216.5 L785.3 210.2 L791.6 205.9 L804.3 203.8 L808.5 203.8 L817 202.4 L821.2 198.9 L826.8 193.3 L826.1 187.7 L822.6 182.7 L827.5 176.4 L828.2 173.6M621.8 133.9 L625.5 130 L630.2 126.5 L631 127.3 L627 131.2 L622.8 134.8Z" fill="none" stroke="#6a6a6a" stroke-width=".8" stroke-linejoin="round"/>
<path d="M818.6 549.7 L823 552.4 L823.3 557.7 L819.4 559.4 L814.7 556.8 L815 552.4Z" fill="#fff" stroke="#4f4f4f" stroke-width=".8"/>
<path d="M871.7 351.8 L876.4 354.9 L877.2 361.2 L874.1 364.7 L868.6 369 L862.3 372.2 L860.8 369 L863.9 365.9 L868.6 362.8 L870.9 358.1 L871.3 353.3ZM870.9 347.9 L866 348 L860 350.5 L855.3 352.2 L856 353.6 L861 352.8 L867 351.2 L871 351.5Z" fill="#fff" stroke="#4f4f4f" stroke-width=".9" stroke-linejoin="round"/>
<g fill="none" stroke="#505050" stroke-linejoin="round" stroke-linecap="round">
<path d="M952.5 131 L949.5 135.5 L946 138.8 L942 140.5" stroke-width="2.8"/>
<path d="M939 143.5 L936.5 148 L934 152 L931 155" stroke-width="3.6"/>
<path d="M929 149 L928.5 145" stroke-width="2"/>
<path d="M927 159.5 L922.5 160.5 L918.5 163 L915.5 167 L914 172 L912.8 177" stroke-width="2.6"/>
<path d="M934.5 156.5 L935 157" stroke-width="1.4"/>
<path d="M937.5 153.5 L938 154" stroke-width="1.4"/>
<path d="M931 158.5 L931.5 159" stroke-width="1.2"/>
<path d="M926.5 163 L927 163.4" stroke-width="1.2"/>
<path d="M909.5 212 L911 214.5 L912.5 216" stroke-width="4"/>
<path d="M918.8 216.5 L921.5 215.5 L924 216.3" stroke-width="2"/>
<path d="M928 214.2 L931 214.8 L932.8 213.8" stroke-width="1.4"/>
<path d="M908.9 224.2 L909.1 224.6" stroke-width="1.8"/>
<path d="M915.5 215 L919 213" stroke-width="1.6"/>
<path d="M896.5 231.5 L900 229.5 L903.5 228.5" stroke-width="2.6"/>
<path d="M897 230 L899 228" stroke-width="2"/>
<path d="M873 245 L874.5 248.5 L873 251" stroke-width="2.2"/>
<path d="M846 279 L845.5 286 L847 293 L849 299 L852 304.5" stroke-width="5.5"/>
<path d="M833 303 L838 304.5 L843.5 306.5 L848 308" stroke-width="2.4"/>
<path d="M840 312 L846 314 L851 317" stroke-width="2"/>
<path d="M842 320 L848 322.5 L853 325" stroke-width="2"/>
<path d="M858 309 L861 314 L862 320" stroke-width="2.4"/>
<path d="M850 361.5 L855 362.5 L860 364.5" stroke-width="2.6"/>
<path d="M851.5 371 L856 373.5 L861 374" stroke-width="2.4"/>
<path d="M849 345 L853 348.5 L855 352.5" stroke-width="1.8"/>
<path d="M826 412 L821 421 L813.5 429.5 L806 437 L799.5 445.5 L796 455 L794 466 L793 476" stroke-width="2.2"/>
<path d="M792 480.6 L791.1 491.3 L794.7 500.1 L797.3 509.9" stroke-width="1.2"/>
<path d="M812.8 516.5 L816 520 L817.8 523" stroke-width="2.2"/>
<path d="M779 524 L780 532 L783 540" stroke-width="2"/>
<path d="M790 558 L794 563 L797 568" stroke-width="2.4"/>
<path d="M647 513.5 L649 519 L654 523 L659.5 527" stroke-width="3"/>
<path d="M653 519.5 L656 515 L656.6 510" stroke-width="1.6"/>
<path d="M641 529.5 L646 528.5 L652 531 L658.5 531.5" stroke-width="2.4"/>
<path d="M612 525 L618.5 529.5 L627 532 L636 531" stroke-width="2.4"/>
<path d="M601.5 523.2 L606 521.3 L610.5 523.5" stroke-width="1.6"/>
<path d="M508 566 L513 558 L519 553" stroke-width="2"/>
<path d="M527 549.5 L533 546" stroke-width="2"/>
<path d="M551 531.5 L555 528" stroke-width="2"/>
<path d="M505.5 575 L506.5 590 L509.5 601" stroke-width="1.8"/>
<path d="M92 300 L96 298 L99 299.5 L103 298.5" stroke-width="1.8"/>
<path d="M92 301 L94 306 L96 309" stroke-width="1.8"/>
<path d="M119.5 105 L120 112 L118 118 L119 121.5 L124 122.5" stroke-width="2"/>
</g>
<path d="M846 281 L846 287 L847.3 293 L849.3 298.5 L852 303.5" fill="none" stroke="#fff" stroke-width="1.6" stroke-linecap="round"/>
<path d="M852 303.5 L855 308 L857.5 313 L859.5 318.5 L861.5 325 L858 329 L855 324 L853.5 318 L851.5 312 L849.5 307Z" fill="#fff"/>
<g fill="#fff" stroke="#505050" stroke-width=".8" stroke-linejoin="round">
<path d="M549.5 529 L550.5 524.5 L553 522.3 L555 524 L553.5 527.5 L551.5 530.5Z"/>
<path d="M519 550.5 L522.5 546.5 L526.5 545.5 L527 547.5 L523 550 L520 552.5Z"/>
<path d="M506 564.5 L508.5 559.5 L511.5 557.5 L512 560 L509.5 563 L507.5 566.5Z"/>
<path d="M500.5 576.5 L503.5 574 L504.5 577 L502 579Z"/>
<path d="M505.6 578 L506.6 590 L509.6 601.5 L508.6 601.8 L505.4 590 L504.6 579Z" stroke-width=".5"/>
<path d="M602 522 L605 519.3 L609.5 520.5 L607 522.8Z"/>
<path d="M781.5 538 L784.5 539 L786 546 L783.5 545Z"/>
</g>
<g fill="#505050"><ellipse cx="113" cy="387" rx="4.5" ry="1" transform="rotate(12 113 387)"/><ellipse cx="120.5" cy="389" rx="2.5" ry=".9" transform="rotate(12 120 389)"/><circle cx="118.5" cy="405" r="1.1"/><ellipse cx="137.5" cy="406.5" rx="1.2" ry="2.2" transform="rotate(-25 137 406)"/><ellipse cx="134.5" cy="416" rx="1.2" ry="2.4" transform="rotate(-20 134 416)"/><circle cx="84" cy="298" r=".9"/></g>
<path d="M787 609 L802.6 607.3 L813.2 602.5 L823.9 600.2 L831 594 L836 586" fill="none" stroke="#505050" stroke-width="1.3" stroke-dasharray="4 2 1.5 2 6 1.5" stroke-linejoin="round"/>
<path d="M142 73.1 L146.9 72.1 L152.7 74.5 L153.2 78.4 L150.8 82.3 L152.2 87.2 L153.2 90.6 L149.8 94.1 L148.8 100.9 L145.9 105.8 L140 108.2 L136.1 107.2 L135.6 103.8 L139.1 101.9 L143 100.9 L142 98 L138.1 99.9 L136.1 100.4 L139.1 96 L143 92.1 L146.9 89.2 L142 87.7 L141.5 84.3 L145.9 84.3 L147.9 80.4 L143.9 79.4 L142 75.5Z" fill="#4f4f4f" stroke="#4f4f4f" stroke-width=".8" stroke-linejoin="round"/>
<g clip-path="url(#ak)">
<rect x="150" y="500" width="400" height="291" fill="#fff"/>
<path d="M225 590 L246.2 581.2 L260 578.8 L282.5 562.5 L310 550 L345 541.2 L372 536 L372 510 L215 510Z" fill="#E8B56C" stroke="#8b7355" stroke-opacity=".6" stroke-width=".8"/>
<path d="M220 580 L242.5 570 L270 552.5 L292.5 537.5 L302.5 532.5 L306 515 L215 515Z" fill="#E48B49" stroke="#8b7355" stroke-opacity=".6" stroke-width=".8"/>
<path d="M190 700 L245 686.2 C251.2 683.8 273.3 676 282.5 671.2 C291.7 666.5 294.6 662.3 300 657.5 C305.4 652.7 309.6 647.1 315 642.5 C320.4 637.9 325.8 633.8 332.5 630 C339.2 626.2 347.1 623.3 355 620 C362.9 616.7 375.8 611.7 380 610 L400 606 L520 700 L520 790 L190 790Z" fill="#E8B56C" stroke="#777" stroke-width=".9"/>
<path d="M320 675 L332.5 667.5 L357.5 662.5 L395 658 L520 650 L520 760 L420 760 L420 712 L322 712 L313 702 L318 688Z" fill="#E48B49" stroke="#8b7355" stroke-opacity=".6" stroke-width=".8"/>
<path d="M256.2 581.2 C258.5 581.2 265.6 579.8 270 581.2 C274.4 582.7 278.8 586 282.5 590 C286.2 594 290 599.6 292.5 605 C295 610.4 296.7 616.7 297.5 622.5 C298.3 628.3 298.3 634.2 297.5 640 C296.7 645.8 295 652.5 292.5 657.5 C290 662.5 287.1 666.2 282.5 670 C277.9 673.8 271.2 677.3 265 680 C258.8 682.7 248.3 685.2 245 686.2 L200 695 L180 640 L200 590 L250 583Z" fill="#CBCBCB"/>
<path d="M215 608.8 C216.5 608.8 218.8 609 223.8 608.8 C228.8 608.5 238.1 606.8 245 607 C251.9 607.2 259.6 608 265 610 C270.4 612 274.6 615 277.5 618.8 C280.4 622.5 282.1 628.1 282.5 632.5 C282.9 636.9 282.1 641.9 280 645 C277.9 648.1 275.8 649.6 270 651.2 C264.2 652.9 252.9 654.4 245 655 C237.1 655.6 228 655 222.5 655 C217 655 213.8 655 212 655 L212 646.2 C215 646.2 223.2 646.2 230 646.2 C236.8 646.2 246.2 646.9 252.5 646.2 C258.8 645.6 264.2 644.4 267.5 642.5 C270.8 640.6 271.9 637.5 272.5 635 C273.1 632.5 272.9 630 271.2 627.5 C269.6 625 266.9 621.7 262.5 620 C258.1 618.3 251.5 617.9 245 617.5 C238.5 617.1 228.8 617.5 223.8 617.5 C218.8 617.5 216.5 617.5 215 617.5Z" fill="url(#dk)"/>
<path d="M256.2 581.2 C258.5 581.2 265.6 579.8 270 581.2 C274.4 582.7 278.8 586 282.5 590 C286.2 594 290 599.6 292.5 605 C295 610.4 296.7 616.7 297.5 622.5 C298.3 628.3 298.3 634.2 297.5 640 C296.7 645.8 295 652.5 292.5 657.5 C290 662.5 287.1 666.2 282.5 670 C277.9 673.8 271.2 677.3 265 680 C258.8 682.7 248.3 685.2 245 686.2" fill="none" stroke="#fff" stroke-width="2.2"/>
<path d="M256.2 581.2 C258.5 581.2 265.6 579.8 270 581.2 C274.4 582.7 278.8 586 282.5 590 C286.2 594 290 599.6 292.5 605 C295 610.4 296.7 616.7 297.5 622.5 C298.3 628.3 298.3 634.2 297.5 640 C296.7 645.8 295 652.5 292.5 657.5 C290 662.5 287.1 666.2 282.5 670 C277.9 673.8 271.2 677.3 265 680 C258.8 682.7 248.3 685.2 245 686.2" fill="none" stroke="#999" stroke-width=".8"/>
<path d="M186.2 620 L195 622.5 L205 631.2 L198.8 632.5 L192.5 626.2 L186.2 623.8ZM205 676.2 L216.2 675 L216.2 682.5 L207.5 682.5Z" fill="#CBCBCB"/>
</g>
<g fill="none" stroke="#4f4f4f" stroke-width="1.1" stroke-linejoin="round">
<path d="M232.5 558.8 L237.5 552.5 L245 545 L257.5 537.5 L270 533.8 L280 528.8 L287.5 523.8 L295 527.5 L300 532.5 L310 536.2 L325 537.5 L342.5 542.5 L355 537.5 L367.5 541.2 L380 610 L392.5 667.5 L405 671 L418 675 L431.2 677.5 L437.5 672.8 L446.9 680.6 L459.4 690 L471.9 702.5 L490.6 711.9 L495.3 722.8 L490.6 732.2 L475 736.9 L465.6 727.5 L456.2 718.1 L446.9 711.9 L437.5 702.5 L428.1 694.7 L425 690 L412.5 680 L406.2 676.5 L403.1 680.6 L384.4 679 L368.8 682.2 L356.2 680.6 L346.9 671.2 L350 679 L346.9 683.8 L337.5 690 L325 696.2 L315.6 699.4 L318.8 680.6 L331.2 666.6 L323.4 671.2 L315.6 683.8 L309.4 693.1 L303.4 696.4 L300.9 701.5 L304.7 705.3 L302.2 709.2 L297.1 715.5 L289.4 721.9 L283 727 L279.2 732.1 L271.5 737.3 L263.9 741.1 L261.3 744.9 L251.1 748.8 L247.2 748.8 L240.9 751.3 L234.5 753.9 L230 755.1 L231.9 750.7 L237 746.2 L243.4 744.3 L247.9 744.9 L251.1 740.4 L256.2 737.3 L262.6 733.4 L266.4 728.3 L271.5 724.5 L273.4 719.4 L275.4 710.4 L277.9 704 L271.5 706.6 L267.7 702.8 L266.4 709.2 L262.6 709.8 L260 704 L254.9 701.5 L248.5 704.7 L239.6 705.3 L242.1 704 L240.9 696.4 L243.4 690 L242.2 686.9 L226.6 685.3 L223.4 677.5 L218.8 665 L220.3 652.5 L230 645 L240 640 L247.5 637 L256 636 L256 632 L248 628 L235 622 L223.8 617.5 L227.5 610 L221.2 605 L217.5 597.5 L232.5 590 L243.8 588.8 L242.5 595 L257.5 595 L256.2 585 L252.5 582.5 L246.2 581.2 L242.5 572.5 L236.2 565ZM312.4 709.2 L318.1 714.3 L314.9 723.2 L312.4 728.3 L306 733.4 L300.9 739.2 L295.1 741.1 L297.1 734.7 L295.1 728.3 L298.3 724.5 L302.2 720.7 L306 715.5 L308.6 711.7ZM186.2 620 L195 622.5 L205 631.2 L198.8 632.5 L192.5 626.2 L186.2 623.8ZM205 676.2 L216.2 675 L216.2 682.5 L207.5 682.5Z"/>
<path d="M208.9 759.6 L212.8 755.8 L220.4 755.1 L223 757.7 L220.4 760.9 L214 763.4 L209.6 762.8Z" fill="#fff"/>
</g>
<g fill="none" stroke="#505050" stroke-linejoin="round" stroke-linecap="round">
<path d="M17 719.5 L20 719 L23.5 722 L20 723" stroke-width="1.6"/>
<path d="M20.5 729.5 L23 730" stroke-width="1.8"/>
<path d="M27 727.5 L28.5 729" stroke-width="1.3"/>
<path d="M40 740.3 L40.6 740.6" stroke-width="1.6"/>
<path d="M48.5 751.5 L52 750 L54 751" stroke-width="1.8"/>
<path d="M56 754.5 L59.5 756.5" stroke-width="1.6"/>
<path d="M68 759.3 L68.5 759.8" stroke-width="2"/>
<path d="M58.5 760 L61 764 L63.5 767" stroke-width="1.8"/>
<path d="M75 773 L78 770.5 L81 767" stroke-width="1.5"/>
<path d="M85.5 768.5 L90 771 L96 773 L103 773.5 L110 774" stroke-width="2.6"/>
<path d="M113 773.5 L119 775 L123 774 L127 777.5 L132 780" stroke-width="2.2"/>
<path d="M137 778.4 L138 778.2" stroke-width="2"/>
<path d="M148.5 778.6 L150.5 778.3" stroke-width="1.6"/>
<path d="M153.5 778 L155 777.6" stroke-width="1.6"/>
<path d="M158.7 777.5 L160.5 775.5" stroke-width="2"/>
<path d="M162 776 L162.8 774.5" stroke-width="1.5"/>
<path d="M167.6 779 L172 775.5 L176 773 L180 771.5" stroke-width="2.4"/>
<path d="M186 770 L190 767.5 L193 766" stroke-width="2.6"/>
<path d="M196 766.5 L201 765 L206 764" stroke-width="2.2"/>
<path d="M172.7 714.5 L175 715" stroke-width="1.8"/>
<path d="M176.5 724.3 L177.2 724.6" stroke-width="1.8"/>
<path d="M165.5 659.5 L166.5 663 L169 665.5 L171 667" stroke-width="1.5"/>
<path d="M226 757.5 L229 760.5 L232 763.5" stroke-width="2"/>
<path d="M236 756.5 L240 759.5 L243 762" stroke-width="2"/>
<path d="M246 752.5 L250 755.5 L254 758 L256 762" stroke-width="2.2"/>
<path d="M251 750.5 L256 752.5" stroke-width="1.8"/>
<path d="M262 746 L266 747.5" stroke-width="1.6"/>
<path d="M277.9 744.9 L278.3 745.8" stroke-width="1.6"/>
<path d="M286.8 749.4 L287.2 749.9" stroke-width="2"/>
<path d="M201 765.5 L205 766.8 L208 765.5" stroke-width="2.6"/>
<path d="M225 766.5 L228 768" stroke-width="1.8"/>
<path d="M311 712 L314.5 711 L317 713.5" stroke-width="2.4"/>
<path d="M303 729 L306 726 L308 727.5" stroke-width="1.6"/>
<path d="M297 736.5 L299.5 733 L302 734" stroke-width="1.8"/>
<path d="M309 721 L312 718.5" stroke-width="1.6"/>
<path d="M295 743 L299 742" stroke-width="1.8"/>
<path d="M305 735.5 L307.5 733.5" stroke-width="1.5"/>
<path d="M433 679 L438 684 L441 690 L446 694 L449 700 L454 705 L457 711 L463 716 L466 722 L471 727 L476 733" stroke-width="2.2"/>
<path d="M440 677 L446 684 L452 690 L457 697 L464 703 L470 709 L476 714 L481 721 L486 728" stroke-width="2"/>
<path d="M447 683 L455 688 L461 695 L468 700 L476 706 L484 712 L490 718 L492 725" stroke-width="1.8"/>
<path d="M431 690 L436 697 L441 703" stroke-width="2"/>
<path d="M456 699 L459 706 L465 711 L469 718" stroke-width="1.6"/>
<path d="M346 672 L348 678 L352 681 L357 681" stroke-width="2.4"/>
<path d="M338 689 L343 685 L347 681" stroke-width="2"/>
<path d="M352 676 L356 679 L361 680.5" stroke-width="2"/>
<path d="M318 700 L322 697.5 L327 695.5" stroke-width="1.6"/>
</g>
<text x="206.7" y="42.4" font-size="47" fill="#000" textLength="610.5" lengthAdjust="spacingAndGlyphs">Monthly Temperature Outlook</text>
<text x="391.5" y="70.9" font-size="19.6" font-weight="bold" fill="#000" textLength="57" lengthAdjust="spacingAndGlyphs">Valid:</text>
<text x="463.5" y="70.9" font-size="19.6" fill="#000" textLength="123" lengthAdjust="spacingAndGlyphs">October 2025</text>
<text x="391.5" y="95.9" font-size="19.6" font-weight="bold" fill="#000" textLength="74.5" lengthAdjust="spacingAndGlyphs">Issued:</text>
<text x="481.5" y="95.9" font-size="19.6" fill="#000" textLength="184.5" lengthAdjust="spacingAndGlyphs">September 30, 2025</text>
<text x="182.5" y="218.4" font-size="17.3" font-weight="bold" fill="#0d0d0d" stroke="#fff" stroke-width="2.8" stroke-linejoin="round" paint-order="stroke" textLength="49.0" lengthAdjust="spacingAndGlyphs">Equal</text>
<text x="169.4" y="240.4" font-size="17.3" font-weight="bold" fill="#0d0d0d" stroke="#fff" stroke-width="2.8" stroke-linejoin="round" paint-order="stroke" textLength="75.3" lengthAdjust="spacingAndGlyphs">Chances</text>
<text x="583.7" y="237.5" font-size="17.3" font-weight="bold" fill="#0d0d0d" stroke="#fff" stroke-width="2.8" stroke-linejoin="round" paint-order="stroke" textLength="55.4" lengthAdjust="spacingAndGlyphs">Above</text>
<text x="238.8" y="552.6" font-size="17.3" font-weight="bold" fill="#0d0d0d" stroke="#fff" stroke-width="2.8" stroke-linejoin="round" paint-order="stroke" textLength="54.8" lengthAdjust="spacingAndGlyphs">Above</text>
<text x="309.1" y="585.2" font-size="17.3" font-weight="bold" fill="#0d0d0d" stroke="#fff" stroke-width="2.8" stroke-linejoin="round" paint-order="stroke" textLength="48.2" lengthAdjust="spacingAndGlyphs">Equal</text>
<text x="296.0" y="607.9" font-size="17.3" font-weight="bold" fill="#0d0d0d" stroke="#fff" stroke-width="2.8" stroke-linejoin="round" paint-order="stroke" textLength="74.4" lengthAdjust="spacingAndGlyphs">Chances</text>
<text x="234.3" y="630.5" font-size="17.3" font-weight="bold" fill="#0d0d0d" stroke="#fff" stroke-width="2.8" stroke-linejoin="round" paint-order="stroke" textLength="40.0" lengthAdjust="spacingAndGlyphs">Near</text>
<text x="223.2" y="650.7" font-size="17.3" font-weight="bold" fill="#0d0d0d" stroke="#fff" stroke-width="2.8" stroke-linejoin="round" paint-order="stroke" textLength="62.3" lengthAdjust="spacingAndGlyphs">Normal</text>
<text x="348.6" y="679" font-size="17.3" font-weight="bold" fill="#0d0d0d" stroke="#fff" stroke-width="2.8" stroke-linejoin="round" paint-order="stroke" textLength="54.1" lengthAdjust="spacingAndGlyphs">Above</text>
<g font-weight="bold" fill="#1a1a1a" text-anchor="middle">
<text x="833" y="627.6" font-size="12.5">Probability</text>
<text x="833" y="642" font-size="12.5">(Percent Chance)</text>
<text x="747.4" y="657.1" font-size="9.3" textLength="29.3" lengthAdjust="spacingAndGlyphs">Above</text>
<text x="746.6" y="668.1" font-size="9.3" textLength="33" lengthAdjust="spacingAndGlyphs">Normal</text>
<text x="833" y="657.1" font-size="9.3" textLength="22" lengthAdjust="spacingAndGlyphs">Near</text>
<text x="832.2" y="668.1" font-size="9.3" textLength="33" lengthAdjust="spacingAndGlyphs">Normal</text>
<text x="919.4" y="657.1" font-size="9.3" textLength="29" lengthAdjust="spacingAndGlyphs">Below</text>
<text x="918.6" y="668.1" font-size="9.3" textLength="33" lengthAdjust="spacingAndGlyphs">Normal</text>
<text x="833" y="721.4" font-size="9.3" textLength="26" lengthAdjust="spacingAndGlyphs">Equal</text>
<text x="833" y="732.3" font-size="9.3" textLength="40" lengthAdjust="spacingAndGlyphs">Chances</text>
</g>
<rect x="721.3" y="673.2" width="25.5" height="11.9" fill="#E8B56C"/>
<rect x="721.3" y="689.4" width="25.5" height="11.9" fill="#E48B49"/>
<rect x="721.3" y="705.6" width="25.5" height="11.9" fill="#DB5631"/>
<rect x="721.3" y="721.8" width="25.5" height="11.9" fill="#CA3A1B"/>
<rect x="721.3" y="738.0" width="25.5" height="11.9" fill="url(#p70)"/>
<rect x="721.3" y="754.2" width="25.5" height="11.9" fill="#962209"/>
<rect x="721.3" y="770.4" width="25.5" height="11.9" fill="#6E1E0A"/>
<rect x="918.9" y="673.2" width="25.6" height="11.9" fill="url(#pb33)"/>
<rect x="918.9" y="689.4" width="25.6" height="11.9" fill="url(#pb40)"/>
<rect x="918.9" y="705.6" width="25.6" height="11.9" fill="url(#pb50)"/>
<rect x="918.9" y="721.8" width="25.6" height="11.9" fill="url(#pb60)"/>
<rect x="918.9" y="738.0" width="25.6" height="11.9" fill="#0A60A5"/>
<rect x="918.9" y="754.2" width="25.6" height="11.9" fill="url(#pb80)"/>
<rect x="918.9" y="770.4" width="25.6" height="11.9" fill="url(#pb90)"/>
<rect x="801" y="673.2" width="25.6" height="11.9" fill="#CBCBCB"/>
<rect x="801" y="689.4" width="25.6" height="11.9" fill="url(#dk)"/>
<rect x="820.5" y="737.8" width="25.3" height="12.3" fill="#fff" stroke="#444" stroke-width="1"/>
<g font-size="9.4" fill="#3a3a3a">
<text x="750.6" y="682.8" textLength="33" lengthAdjust="spacingAndGlyphs">33-40%</text>
<text x="882.8" y="682.8" textLength="33" lengthAdjust="spacingAndGlyphs">33-40%</text>
<text x="750.6" y="699.0" textLength="33" lengthAdjust="spacingAndGlyphs">40-50%</text>
<text x="882.8" y="699.0" textLength="33" lengthAdjust="spacingAndGlyphs">40-50%</text>
<text x="750.6" y="715.2" textLength="33" lengthAdjust="spacingAndGlyphs">50-60%</text>
<text x="882.8" y="715.2" textLength="33" lengthAdjust="spacingAndGlyphs">50-60%</text>
<text x="750.6" y="731.4" textLength="33" lengthAdjust="spacingAndGlyphs">60-70%</text>
<text x="882.8" y="731.4" textLength="33" lengthAdjust="spacingAndGlyphs">60-70%</text>
<text x="750.6" y="747.6" textLength="33" lengthAdjust="spacingAndGlyphs">70-80%</text>
<text x="882.8" y="747.6" textLength="33" lengthAdjust="spacingAndGlyphs">70-80%</text>
<text x="750.6" y="763.8" textLength="33" lengthAdjust="spacingAndGlyphs">80-90%</text>
<text x="882.8" y="763.8" textLength="33" lengthAdjust="spacingAndGlyphs">80-90%</text>
<text x="750.6" y="780.0" textLength="38.4" lengthAdjust="spacingAndGlyphs">90-100%</text>
<text x="877.4" y="780.0" textLength="38.4" lengthAdjust="spacingAndGlyphs">90-100%</text>
<text x="830" y="682.8" textLength="33" lengthAdjust="spacingAndGlyphs">33-40%</text>
<text x="830" y="699.0" textLength="33" lengthAdjust="spacingAndGlyphs">40-50%</text>
</g>
<g font-size="11.6" fill="#333">
<text x="659.2" y="684.4" textLength="38.2" lengthAdjust="spacingAndGlyphs">Leaning</text>
<text x="663" y="697.4" textLength="30.6" lengthAdjust="spacingAndGlyphs">Above</text>
<text x="664.3" y="743" textLength="27.2" lengthAdjust="spacingAndGlyphs">Likely</text>
<text x="663" y="756.1" textLength="30.6" lengthAdjust="spacingAndGlyphs">Above</text>
<text x="968.5" y="684.4" textLength="38.2" lengthAdjust="spacingAndGlyphs">Leaning</text>
<text x="973.2" y="697.4" textLength="28.6" lengthAdjust="spacingAndGlyphs">Below</text>
<text x="973.7" y="743" textLength="27.2" lengthAdjust="spacingAndGlyphs">Likely</text>
<text x="973.2" y="756.1" textLength="28.6" lengthAdjust="spacingAndGlyphs">Below</text>
</g>
<g fill="none" stroke="#444" stroke-width="1">
<path d="M719 672.8 C711.932 672.8 711.932 673.8 711.932 680.05 L711.932 680.05 C711.932 685.3 711.932 687.3 700.4 687.3 C711.932 687.3 711.932 689.3 711.932 694.55 L711.932 694.75 C711.932 701 711.932 702 719 702"/>
<path d="M719 705.5 C711.932 705.5 711.932 706.5 711.932 713.5 L711.932 736 C711.932 742 711.932 744 700.4 744 C711.932 744 711.932 746 711.932 752 L711.932 774.8 C711.932 781.8 711.932 782.8 719 782.8"/>
<path d="M946.6 672.8 C953.6680000000001 672.8 953.6680000000001 673.8 953.6680000000001 680.05 L953.6680000000001 680.05 C953.6680000000001 685.3 953.6680000000001 687.3 965.2 687.3 C953.6680000000001 687.3 953.6680000000001 689.3 953.6680000000001 694.55 L953.6680000000001 694.75 C953.6680000000001 701 953.6680000000001 702 946.6 702"/>
<path d="M946.6 705.5 C953.6680000000001 705.5 953.6680000000001 706.5 953.6680000000001 713.5 L953.6680000000001 736 C953.6680000000001 742 953.6680000000001 744 965.2 744 C953.6680000000001 744 953.6680000000001 746 953.6680000000001 752 L953.6680000000001 774.8 C953.6680000000001 781.8 953.6680000000001 782.8 946.6 782.8"/>
</g>
<g>
<circle cx="46.7" cy="36.9" r="23.65" fill="#fff" stroke="#2B8CD0" stroke-width="6.1"/>
<path id="rt" d="M25.2 40.5 A21.8 21.8 0 1 1 68.2 40.5" fill="none"/>
<path id="rb" d="M22.6 42.5 A24.6 24.6 0 0 0 70.8 42.5" fill="none"/>
<text font-size="4" font-weight="bold" fill="#cfe6f7" letter-spacing=".15"><textPath href="#rt" startOffset="50%" text-anchor="middle">DEPARTMENT OF COMMERCE</textPath></text>
<text font-size="4" font-weight="bold" fill="#cfe6f7" letter-spacing=".15"><textPath href="#rb" startOffset="50%" text-anchor="middle">UNITED STATES OF AMERICA</textPath></text>
<circle cx="23.3" cy="38" r=".9" fill="#cfe6f7"/><circle cx="70.1" cy="38" r=".9" fill="#cfe6f7"/>
<path d="M36 32.7 H58 V49 Q58 52 46.9 55 Q35.8 52 36 49Z" fill="#E5B31E" stroke="#7a6a3a" stroke-width=".6"/>
<rect x="36" y="32.7" width="22" height="10.8" fill="#2A7CC4"/>
<rect x="35.2" y="32.2" width="23.6" height="1.5" fill="#1d5fa3"/>
<path d="M40.5 39.6 L43 36.3 L46 35.2 L50 36 L52.5 39 L51.5 40.4 L42 40.6Z" fill="#eef3f8"/>
<path d="M41 41 L52.5 40.6 L51.5 42 L42.5 42.2Z" fill="#2a3a55"/>
<rect x="46.4" y="43.5" width="1" height="11" fill="#8a7a4a"/>
<path d="M41 46.5 L45.5 45.5 M48.5 45.5 L53 46.8" stroke="#f1c9a0" stroke-width=".9" fill="none"/>
<path d="M40 20 L42.6 20.8 L45.6 26.5 L46.9 23.2 L48.2 26.5 L51.6 20.8 L54.2 20 L53 26.8 L49.2 30.5 L44.6 30.5 L41.2 26.8Z" fill="#A8552A"/>
<path d="M46 24.5 L47.8 24.5 L48 28.5 L45.8 28.5Z" fill="#f3e3b0"/>
<rect x="43.6" y="30.3" width="6.8" height="1.7" fill="#5a5a5a"/>
</g>
<g>
<clipPath id="nc"><circle cx="977.2" cy="37.1" r="28.2"/></clipPath>
<g clip-path="url(#nc)">
<rect x="948" y="8" width="60" height="60" fill="#fff"/>
<path d="M955.2 20.5 C962 12 970 8.9 977.2 8.9 C986 8.9 994 12.5 999.2 19.5 C996 22 993 27 990.4 30.3 C987 36 984 41 978.7 42 C972 41.5 968 36 963 29.3 C960.5 25.5 958 22 955.2 20.5Z" fill="#0A3087"/>
<path d="M940 29.5 L951.5 29.8 C956 32 961 37 968.9 43 C972 45 975.5 45.5 977 45.3 L969.5 47.6 L970.5 48.6 C975 49 980 47.5 983.5 45.5 L989 43.2 L987 42.2 C992 38 997 31 1002.6 24.9 L1010 24 L1010 70 L940 70Z" fill="#0A8BCB"/>
</g>
<text x="977.3" y="27.2" font-size="8.4" font-weight="bold" fill="#fff" text-anchor="middle" textLength="22.5" lengthAdjust="spacingAndGlyphs">NOAA</text>
</g>
</svg>
</body></html>
